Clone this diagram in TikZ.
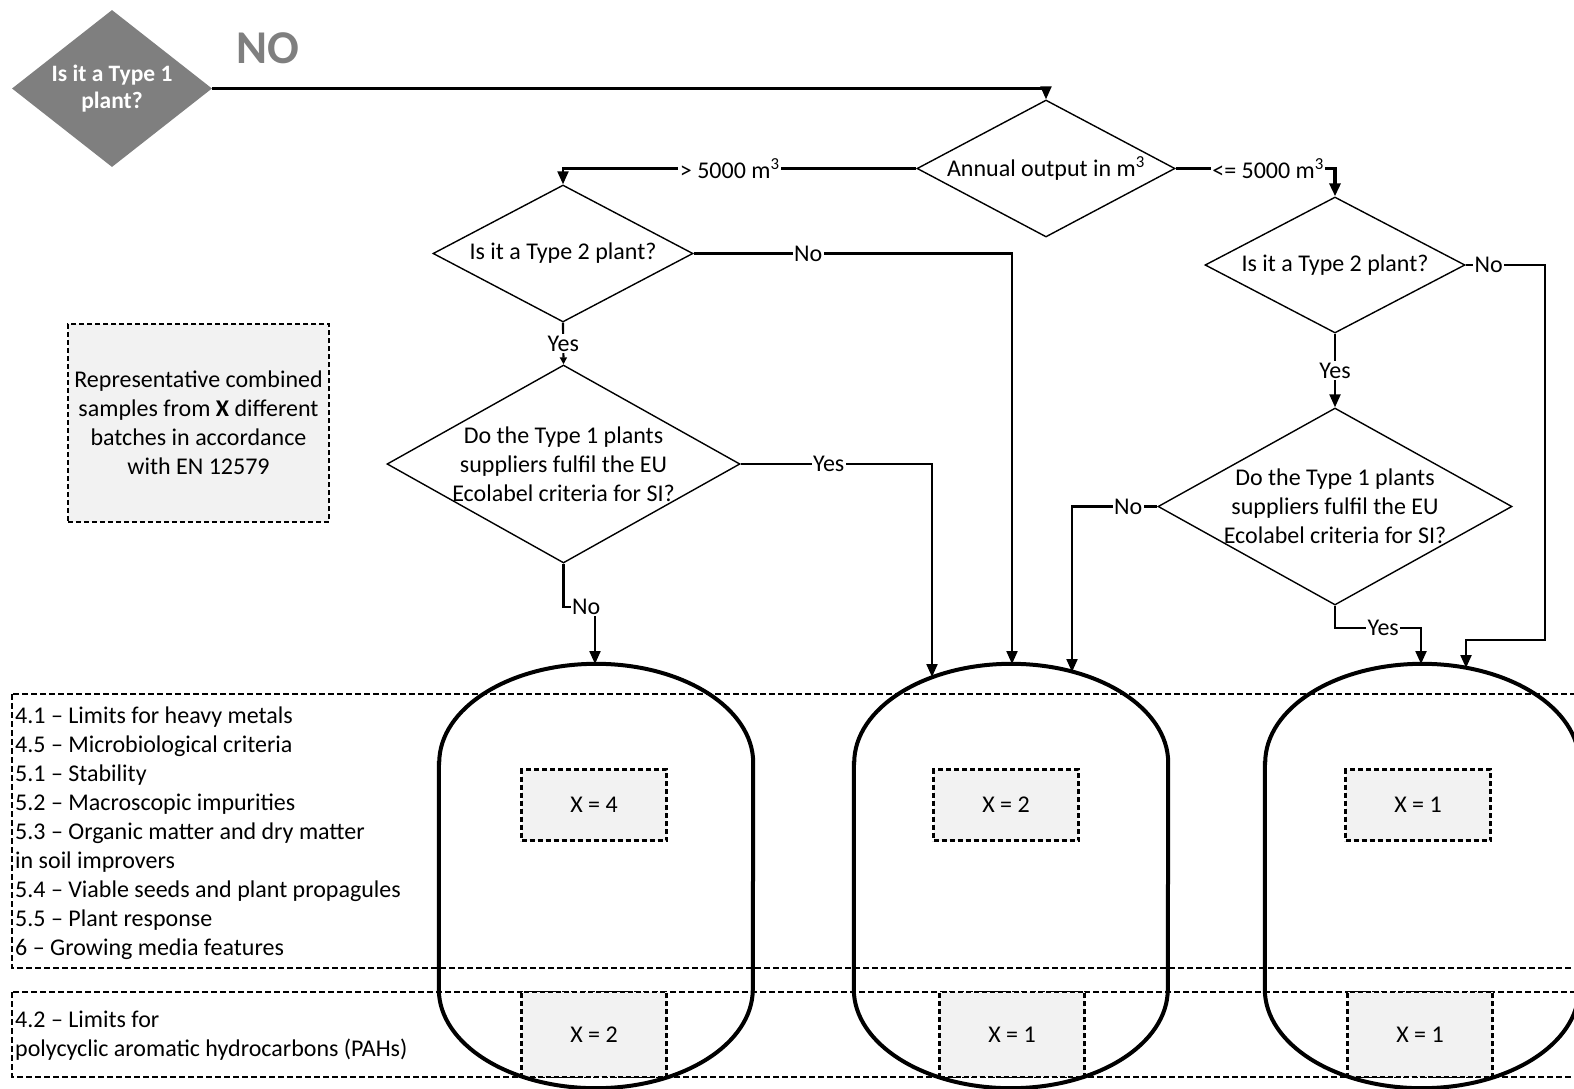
\documentclass[tikz,border=0pt]{standalone}
\usepackage{fontspec}
\setmainfont{Carlito}
\usetikzlibrary{shapes.geometric,arrows.meta}
\definecolor{boxgray}{HTML}{F2F2F2}
\definecolor{diagray}{HTML}{7F7F7F}
\newcommand\txtf{\fontsize{24}{29}\selectfont}
\begin{document}
\begin{tikzpicture}[x=1pt,y=-1pt,font=\txtf,
  conn/.style={line width=2.2pt,-{Triangle[length=13pt,width=11pt]}},
  dia/.style={diamond,draw,line width=1.4pt,inner sep=0pt,fill=white},
  lbl/.style={fill=white,inner sep=1.5pt},
  band/.style={draw,line width=2.8pt,dash pattern=on 6pt off 3pt},
  xbox/.style={draw,fill=boxgray,line width=2.5pt,dash pattern=on 5pt off 3pt,minimum width=145pt},
  cylbox/.style={minimum width=314pt,minimum height=424pt,inner sep=0pt},
  cylline/.style={line width=4pt}]
\useasboundingbox (0,0) rectangle (1574,1089);

% bands
\draw[band] (12,694) rectangle (1600,968);
\draw[band] (12,992) rectangle (1600,1077);
\node[anchor=west,align=left,inner sep=0pt] (crit1) at (15,833) {4.1 -- Limits for heavy metals\\4.5 -- Microbiological criteria\\5.1 -- Stability\\5.2 -- Macroscopic impurities\\5.3 -- Organic matter and dry matter\\in soil improvers\\5.4 -- Viable seeds and plant propagules\\5.5 -- Plant response\\6 -- Growing media features};
\node[anchor=west,align=left,inner sep=0pt] (crit2) at (15,1036) {4.2 -- Limits for\\polycyclic aromatic hydrocarbons (PAHs)};

% legend
\node[draw,fill=boxgray,line width=2.5pt,dash pattern=on 5pt off 3pt,minimum width=261pt,minimum height=198pt,align=center,inner sep=0pt] (leg) at (198.5,423) {Representative combined\\samples from \textbf{X} different\\batches in accordance\\with EN 12579};

% X boxes
\node[xbox,minimum height=71pt] (x1) at (594,805) {X = 4};
\node[xbox,minimum height=71pt] (x2) at (1006,805) {X = 2};
\node[xbox,minimum height=71pt] (x3) at (1418,805) {X = 1};
\node[xbox,minimum height=85pt] (y1) at (594,1034.5) {X = 2};
\node[xbox,minimum height=85pt] (y2) at (1012,1034.5) {X = 1};
\node[xbox,minimum height=85pt] (y3) at (1420,1034.5) {X = 1};

% cylinders
\foreach \n/\cx in {c1/596,c2/1011,c3/1422}{
  \node[cylbox] (\n) at (\cx,876) {};
  \draw[cylline] ([yshift=-99pt]\n.north west) -- ([yshift=99pt]\n.south west)
     arc[start angle=180,end angle=0,x radius=157,y radius=99]
     -- ([yshift=-99pt]\n.north east)
     arc[start angle=0,end angle=-180,x radius=157,y radius=99] -- cycle;
}
\coordinate (c1a) at (595,664);
\coordinate (c2a) at (932,677);
\coordinate (c2b) at (1012,664);
\coordinate (c2c) at (1072,672);
\coordinate (c3a) at (1421,664);
\coordinate (c3b) at (1466,668);

% decisions
\node[diamond,fill=diagray,inner sep=0pt,minimum width=200pt,minimum height=157pt,
  label={[text=white,font=\fontsize{23.5}{27}\selectfont\bfseries,align=center]center:Is it a Type 1\\plant?}] (g) at (112,88.5) {};
\node[text=diagray,font=\fontsize{47}{54}\selectfont\bfseries] (no) at (268,48) {NO};
\node[dia,minimum width=258pt,minimum height=137pt,label={center:Annual output in m\textsuperscript{3}}] (ann) at (1046,168.5) {};
\node[dia,minimum width=260pt,minimum height=137pt,label={center:Is it a Type 2 plant?}] (t2l) at (563,253.5) {};
\node[dia,minimum width=353pt,minimum height=198pt,label={[align=center]center:Do the Type 1 plants\\suppliers fulfil the EU\\Ecolabel criteria for SI?}] (ecoL) at (563.5,464) {};
\node[dia,minimum width=260pt,minimum height=136pt,label={center:Is it a Type 2 plant?}] (t2r) at (1335,265) {};
\node[dia,minimum width=354pt,minimum height=197pt,label={[align=center]center:Do the Type 1 plants\\suppliers fulfil the EU\\Ecolabel criteria for SI?}] (ecoR) at (1335,506.5) {};

% connectors
\draw[conn] (g.east) -| (ann.north);
\draw[conn] (ann.west) -| node[lbl,pos=0.264] {> 5000 m\textsuperscript{3}} (t2l.north);
\draw[conn,line width=3.5pt] (ann.east) -| node[lbl,pos=0.29] {<= 5000 m\textsuperscript{3}} (t2r.north);
\draw[conn] (t2l.east) -| node[lbl,pos=0.18] {No} (c2b);
\draw[line width=2.2pt,-{Triangle[length=7pt,width=7pt]}] (t2l.south) -- node[lbl] {Yes} (ecoL.north);
\draw[conn] (ecoL.east) -| node[lbl,pos=0.23] {Yes} (c2a);
\draw[conn] (ecoL.south) -- (563.5,607) -| node[lbl,pos=0.36] {No} (c1a);
\draw[conn] (t2r.south) -- node[lbl] {Yes} (ecoR.north);
\draw[conn] (t2r.east) -- node[lbl,pos=0.29] {No} (1545,265) |- (1466,640) -- (c3b);
\draw[conn] (ecoR.west) -| node[lbl,pos=0.17] {No} (c2c);
\draw[conn] (ecoR.south) -- (1335,628) -| node[lbl,pos=0.28] {Yes} (c3a);
\end{tikzpicture}
\end{document}
